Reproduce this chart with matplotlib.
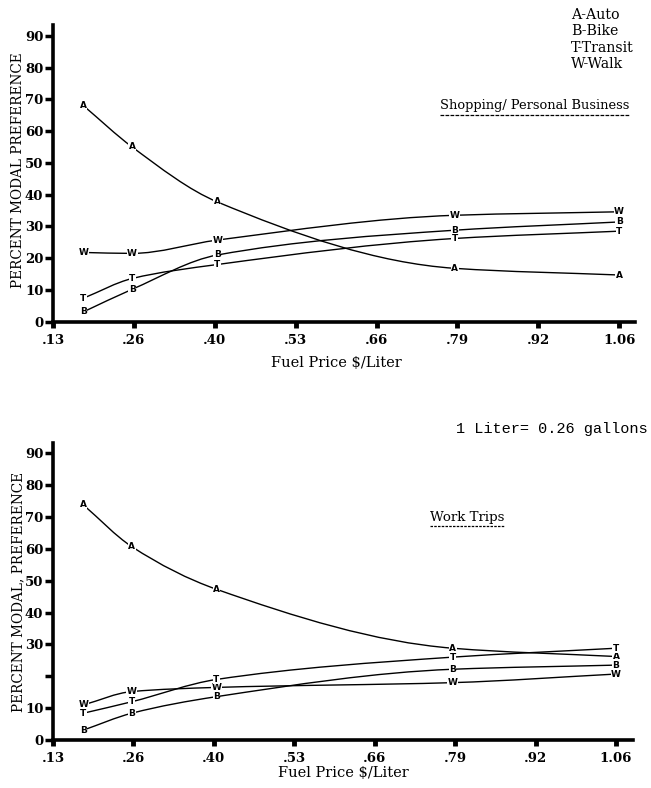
import numpy as np
import matplotlib
matplotlib.use("Agg")
import matplotlib.pyplot as plt
from matplotlib.path import Path
from matplotlib.patches import PathPatch
from matplotlib.lines import Line2D

# ---------------- data ----------------
fuel_price = [0.18, 0.26, 0.40, 0.79, 1.06]
xtick_labels = [".13", ".26", ".40", ".53", ".66", ".79", ".92", "1.06"]

# Shopping / Personal Business
shop_auto = [68.0, 55.0, 37.7, 16.8, 14.7]
shop_bike = [3.1, 10.2, 21.0, 28.8, 31.4]
shop_transit = [7.4, 13.6, 18.0, 26.2, 28.5]
shop_walk = [21.8, 21.5, 25.7, 33.5, 34.6]

# Work trips
work_auto = [73.8, 60.7, 47.3, 28.8, 26.2]
work_bike = [3.1, 8.4, 13.6, 22.2, 23.5]
work_transit = [8.4, 12.0, 19.0, 26.0, 28.8]
work_walk = [11.0, 15.2, 16.5, 18.0, 20.7]

W, H = 651, 788
fig = plt.figure(figsize=(W / 100, H / 100), dpi=100)

SERIF = ["DejaVu Serif"]


def fx(px):
    return px / W


def fy(py):
    return 1 - py / H


def smooth_path(x, y):
    x = np.asarray(x, float)
    y = np.asarray(y, float)
    h = np.diff(x)
    d = np.diff(y) / h
    n = len(x)
    m = np.zeros(n)
    m[0] = d[0]
    m[-1] = d[-1]
    for i in range(1, n - 1):
        if d[i - 1] * d[i] <= 0:
            m[i] = 0.0
        else:
            w1 = 2 * h[i] + h[i - 1]
            w2 = h[i] + 2 * h[i - 1]
            m[i] = (w1 + w2) / (w1 / d[i - 1] + w2 / d[i])
    verts = [(x[0], y[0])]
    codes = [Path.MOVETO]
    for i in range(n - 1):
        verts += [(x[i] + h[i] / 3, y[i] + m[i] * h[i] / 3),
                  (x[i + 1] - h[i] / 3, y[i + 1] - m[i + 1] * h[i] / 3),
                  (x[i + 1], y[i + 1])]
        codes += [Path.CURVE4] * 3
    return Path(verts, codes)


def make_axes(top_px, bottom_px, left_px, right_px, lims):
    ax = fig.add_axes([fx(left_px), fy(bottom_px), fx(right_px - left_px),
                       (bottom_px - top_px) / H])
    ax.set_xlim(0.13, lims[1])
    ax.set_ylim(0, lims[0])
    for s in ("top", "right"):
        ax.spines[s].set_visible(False)
    for s in ("left", "bottom"):
        ax.spines[s].set_linewidth(2.6)
    ax.set_xticks(np.linspace(0.13, 1.06, 8))
    ax.set_xticklabels(xtick_labels)
    ax.tick_params(axis="x", direction="out", length=4, width=3.5, pad=5,
                   labelsize=9.5)
    ax.tick_params(axis="y", direction="out", length=6, width=2.5, pad=1,
                   labelsize=9.5)
    for lab in ax.get_xticklabels() + ax.get_yticklabels():
        lab.set_family(SERIF)
        lab.set_fontweight("bold")
    ax.patch.set_alpha(0)
    return ax


def draw_series(ax, letter, values):
    patch = PathPatch(smooth_path(fuel_price, values), facecolor="none",
                      edgecolor="black", lw=1.0, transform=ax.transData)
    ax.add_patch(patch)
    for xv, yv in zip(fuel_price, values):
        ax.text(xv, yv, letter, ha="center", va="center", fontsize=6.5,
                fontweight="bold", family="DejaVu Sans", zorder=5,
                bbox=dict(facecolor="white", edgecolor="none", pad=0.3))


# ---------- top panel ----------
ax1 = make_axes(25, 321.7, 53, 635, (93.4, 1.086))
ax1.set_yticks(range(0, 91, 10))
for letter, vals in (("A", shop_auto), ("W", shop_walk), ("B", shop_bike),
                     ("T", shop_transit)):
    draw_series(ax1, letter, vals)

# ---------- bottom panel ----------
ax2 = make_axes(443, 740, 53, 633, (93.2, 1.088))
ax2.set_yticks(range(0, 91, 10))
ax2.set_yticklabels(["0", "10", "", "30", "40", "50", "60", "70", "80", "90"])
for lab in ax2.get_yticklabels():
    lab.set_family(SERIF)
    lab.set_fontweight("bold")
for letter, vals in (("A", work_auto), ("W", work_walk), ("T", work_transit),
                     ("B", work_bike)):
    draw_series(ax2, letter, vals)

# ---------- texts ----------
for i, t in enumerate(["A-Auto", "B-Bike", "T-Transit", "W-Walk"]):
    fig.text(fx(571), fy(15 + i * 16.3), t, ha="left", va="center",
             fontsize=10.2, family=SERIF)

fig.text(fx(440), fy(106), "Shopping/ Personal Business", ha="left",
         va="center", fontsize=9.4, family=SERIF)
fig.add_artist(Line2D([fx(440), fx(630)], [fy(115), fy(115)], lw=0.9,
                      ls=(0, (3, 1)), color="black"))

fig.text(fx(430), fy(518), "Work Trips", ha="left", va="center",
         fontsize=9.6, family=SERIF)
fig.add_artist(Line2D([fx(430), fx(505)], [fy(526), fy(526)], lw=0.9,
                      ls=(0, (2, 1)), color="black"))

fig.text(fx(648), fy(429), "1 Liter= 0.26 gallons", ha="right", va="center",
         fontsize=11, family=["Liberation Mono", "DejaVu Sans Mono"])

fig.text(fx(336), fy(363), "Fuel Price $/Liter", ha="center", va="center",
         fontsize=10.5, family=SERIF)
fig.text(fx(343), fy(773), "Fuel Price $/Liter", ha="center", va="center",
         fontsize=10.5, family=SERIF)

fig.text(fx(18), fy(170), "PERCENT MODAL PREFERENCE", rotation=90,
         ha="center", va="center", fontsize=9.8, family=SERIF)
fig.text(fx(18), fy(592), "PERCENT MODAL, PREFERENCE", rotation=90,
         ha="center", va="center", fontsize=9.8, family=SERIF)

fig.savefig("out.png", dpi=100, facecolor="white")
